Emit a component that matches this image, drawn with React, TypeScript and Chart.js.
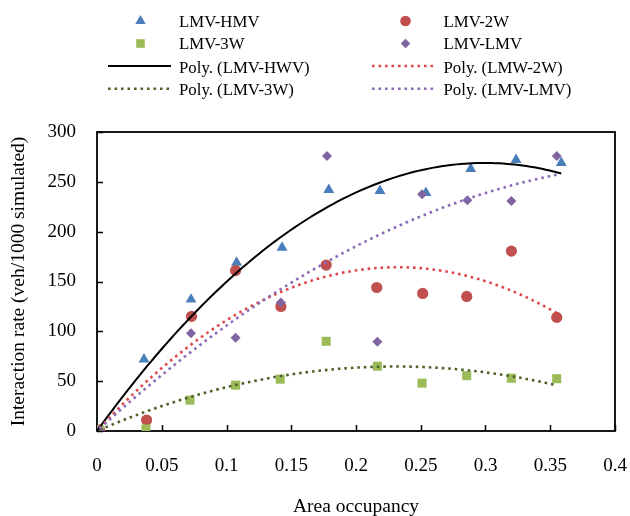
import React, { useEffect, useRef } from "react";
import { Chart, registerables } from "chart.js";

Chart.register(...registerables);

// ---- Data ----
const hmvX = [0, 0.0363, 0.0726, 0.1078, 0.1429, 0.179, 0.2185, 0.254, 0.2886, 0.3236, 0.3585];
const hmvY = [0, 72, 132, 169, 184, 242, 241, 239, 263, 272, 269];

const w2X = [0.002, 0.0383, 0.073, 0.107, 0.142, 0.177, 0.216, 0.2515, 0.2855, 0.32, 0.355];
const w2Y = [1, 11, 115, 161, 125, 166.5, 144, 138, 135, 180.5, 114];

const w3X = [0.002, 0.0378, 0.0718, 0.107, 0.1415, 0.177, 0.2165, 0.251, 0.2855, 0.32, 0.355];
const w3Y = [1, 2, 31, 46, 52, 90, 65, 48, 55.5, 53, 52.5];

const lmvX = [0.002, 0.0726, 0.107, 0.142, 0.1776, 0.2165, 0.251, 0.286, 0.32, 0.355];
const lmvY = [1, 98, 93.6, 129, 276, 89.6, 237.5, 231.4, 230.7, 276];

const xTicks = [0, 0.05, 0.1, 0.15, 0.2, 0.25, 0.3, 0.35, 0.4];
const yTicks = [0, 50, 100, 150, 200, 250, 300];

const seriesNames = ["LMV-HMV", "LMV-2W", "LMV-3W", "LMV-LMV"];
const trendNames = ["Poly. (LMV-HWV)", "Poly. (LMW-2W)", "Poly. (LMV-3W)", "Poly. (LMV-LMV)"];

const markerColors = ["#4a7ebb", "#c0504d", "#9bbb59", "#8064a2"];
const trendColors = ["#000000", "#e0474a", "#4f6228", "#8c6bb8"];

const FONT = "'Liberation Serif', 'Times New Roman', serif";
const AXIS_FONT = 19;
const TITLE_FONT = 19.5;
const LEGEND_FONT = 16.8;

// Least-squares order-2 polynomial trendline with the intercept set to 0
function polyfit2zero(xs: number[], ys: number[]) {
  let s2 = 0, s3 = 0, s4 = 0, t1 = 0, t2 = 0;
  for (let i = 0; i < xs.length; i++) {
    const x = xs[i], y = ys[i];
    s2 += x * x; s3 += x * x * x; s4 += x * x * x * x;
    t1 += x * y; t2 += x * x * y;
  }
  const det = s2 * s4 - s3 * s3;
  const b = (t1 * s4 - t2 * s3) / det;
  const c = (s2 * t2 - s3 * t1) / det;
  return [b, c];
}

function trendPoints(xs: number[], ys: number[]) {
  const [b, c] = polyfit2zero(xs, ys);
  const lo = Math.min(...xs), hi = Math.max(...xs);
  const pts: { x: number; y: number }[] = [];
  const n = 120;
  for (let i = 0; i <= n; i++) {
    const x = lo + ((hi - lo) * i) / n;
    pts.push({ x, y: b * x + c * x * x });
  }
  return pts;
}

const toPts = (xs: number[], ys: number[]) => xs.map((x, i) => ({ x, y: ys[i] }));

const seriesX = [hmvX, w2X, w3X, lmvX];
const seriesY = [hmvY, w2Y, w3Y, lmvY];
const pointStyles = ["triangle", "circle", "rect", "rectRot"];
const pointRadii = [6.3, 5.6, 6.4, 5];

function drawMarker(ctx: CanvasRenderingContext2D, style: string, x: number, y: number, r: number, color: string) {
  ctx.fillStyle = color;
  ctx.beginPath();
  if (style === "triangle") {
    for (let i = 0; i < 3; i++) {
      const a = (i * 2 * Math.PI) / 3;
      const px = x + Math.sin(a) * r, py = y - Math.cos(a) * r;
      if (i === 0) ctx.moveTo(px, py); else ctx.lineTo(px, py);
    }
    ctx.closePath();
  } else if (style === "circle") {
    ctx.arc(x, y, r, 0, Math.PI * 2);
  } else if (style === "rect") {
    const s = r / Math.SQRT2;
    ctx.rect(x - s, y - s, 2 * s, 2 * s);
  } else {
    ctx.moveTo(x, y - r); ctx.lineTo(x + r, y); ctx.lineTo(x, y + r); ctx.lineTo(x - r, y); ctx.closePath();
  }
  ctx.fill();
}

const framePlugin = {
  id: "frameTicks",
  beforeDatasetsDraw(chart: any) {
    const { ctx, chartArea: a, scales } = chart;
    ctx.save();
    ctx.strokeStyle = "#000";
    ctx.lineWidth = 1.8;
    ctx.strokeRect(a.left, a.top, a.right - a.left, a.bottom - a.top);
    ctx.lineWidth = 1.5;
    ctx.beginPath();
    xTicks.forEach((t) => {
      const px = Math.round(scales.x.getPixelForValue(t)) + 0.5;
      ctx.moveTo(px, a.bottom);
      ctx.lineTo(px, a.bottom - 6);
    });
    yTicks.forEach((t) => {
      const py = Math.round(scales.y.getPixelForValue(t)) + 0.5;
      ctx.moveTo(a.left, py);
      ctx.lineTo(a.left + 6, py);
    });
    ctx.stroke();
    ctx.restore();
  },
};

const legendPlugin = {
  id: "customLegend",
  afterDraw(chart: any) {
    const ctx: CanvasRenderingContext2D = chart.ctx;
    ctx.save();
    ctx.font = `${LEGEND_FONT}px ${FONT}`;
    ctx.textAlign = "left";
    ctx.textBaseline = "alphabetic";
    const colMarkerX = [140.5, 405.5];
    const colTextX = [179, 443.5];
    const colLineX = [[108, 171], [372, 434]];
    const colLineTextX = [179, 443.5];
    const markerRowY = [21, 43.5];
    const markerBase = [26.8, 49.4];
    const lineRowY = [66, 88.7];
    const lineBase = [72.7, 95.3];
    for (let i = 0; i < 4; i++) {
      const col = i % 2, row = Math.floor(i / 2);
      drawMarker(ctx, pointStyles[i], colMarkerX[col], markerRowY[row], pointRadii[i] * 0.95, markerColors[i]);
      ctx.fillStyle = "#000";
      ctx.fillText(seriesNames[i], colTextX[col], markerBase[row]);
    }
    for (let i = 0; i < 4; i++) {
      const col = i % 2, row = Math.floor(i / 2);
      ctx.strokeStyle = trendColors[i];
      ctx.lineWidth = i === 0 ? 2 : 2.6;
      ctx.setLineDash(i === 0 ? [] : [2.6, 3.9]);
      ctx.beginPath();
      ctx.moveTo(colLineX[col][0], lineRowY[row]);
      ctx.lineTo(colLineX[col][1], lineRowY[row]);
      ctx.stroke();
      ctx.setLineDash([]);
      ctx.fillStyle = "#000";
      ctx.fillText(trendNames[i], colLineTextX[col], lineBase[row]);
    }
    ctx.restore();
  },
};

export default function App() {
  const ref = useRef<HTMLCanvasElement | null>(null);
  useEffect(() => {
    if (!ref.current) return;
    Chart.defaults.font.family = FONT;
    Chart.defaults.font.size = AXIS_FONT;
    Chart.defaults.color = "#000";

    const scatterSets = seriesNames.map((name, i) => ({
      type: "scatter" as const,
      label: name,
      data: toPts(seriesX[i], seriesY[i]),
      pointStyle: pointStyles[i],
      pointRadius: pointRadii[i],
      pointBorderWidth: 0,
      backgroundColor: markerColors[i],
      borderColor: markerColors[i],
      showLine: false,
      order: 10 - i,
    }));
    const trendSets = trendNames.map((name, i) => ({
      type: "scatter" as const,
      label: name,
      data: trendPoints(seriesX[i], seriesY[i]),
      showLine: true,
      pointRadius: 0,
      borderColor: trendColors[i],
      borderWidth: i === 0 ? 2 : 2.6,
      borderDash: i === 0 ? [] : [2.6, 3.9],
      backgroundColor: "transparent",
      fill: false,
      order: 4 - i,
    }));

    const chart = new Chart(ref.current, {
      type: "scatter",
      data: { datasets: [...scatterSets, ...trendSets] as any },
      options: {
        animation: false,
        responsive: false,
        devicePixelRatio: 1,
        layout: { padding: { top: 132, right: 15, left: 0, bottom: 0 } },
        plugins: { legend: { display: false }, tooltip: { enabled: false } },
        scales: {
          x: {
            type: "linear",
            min: 0,
            max: 0.4,
            afterFit: (s: any) => { s.height = 85; s.paddingLeft = 0; s.paddingRight = 0; },
            afterBuildTicks: (s: any) => { s.ticks = xTicks.map((v) => ({ value: v })); },
            ticks: {
              padding: 24,
              color: "#000",
              font: { size: AXIS_FONT, family: FONT },
              callback: (v: any) => String(parseFloat(Number(v).toFixed(2))),
            },
            grid: { display: false, drawTicks: false },
            border: { display: false },
            title: {
              display: true,
              text: "Area occupancy",
              color: "#000",
              font: { size: TITLE_FONT, family: FONT },
              padding: { top: 0, bottom: -2.5 },
            },
          },
          y: {
            type: "linear",
            min: 0,
            max: 300,
            afterFit: (s: any) => { s.width = 97; s.paddingTop = 0; s.paddingBottom = 0; },
            afterBuildTicks: (s: any) => { s.ticks = yTicks.map((v) => ({ value: v })); },
            ticks: {
              padding: 21,
              color: "#000",
              font: { size: AXIS_FONT, family: FONT },
              callback: (v: any) => String(v),
            },
            grid: { display: false, drawTicks: false },
            border: { display: false },
            title: {
              display: true,
              text: "Interaction rate (veh/1000 simulated)",
              color: "#000",
              font: { size: TITLE_FONT, family: FONT },
              padding: { top: 7.5, bottom: 0 },
            },
          },
        },
      },
      plugins: [framePlugin, legendPlugin],
    });
    return () => chart.destroy();
  }, []);

  return (
    <div style={{ position: "absolute", left: 0, top: 0, width: 630, height: 516, background: "#fff" }}>
      <canvas ref={ref} width={630} height={516} style={{ display: "block" }} />
    </div>
  );
}
